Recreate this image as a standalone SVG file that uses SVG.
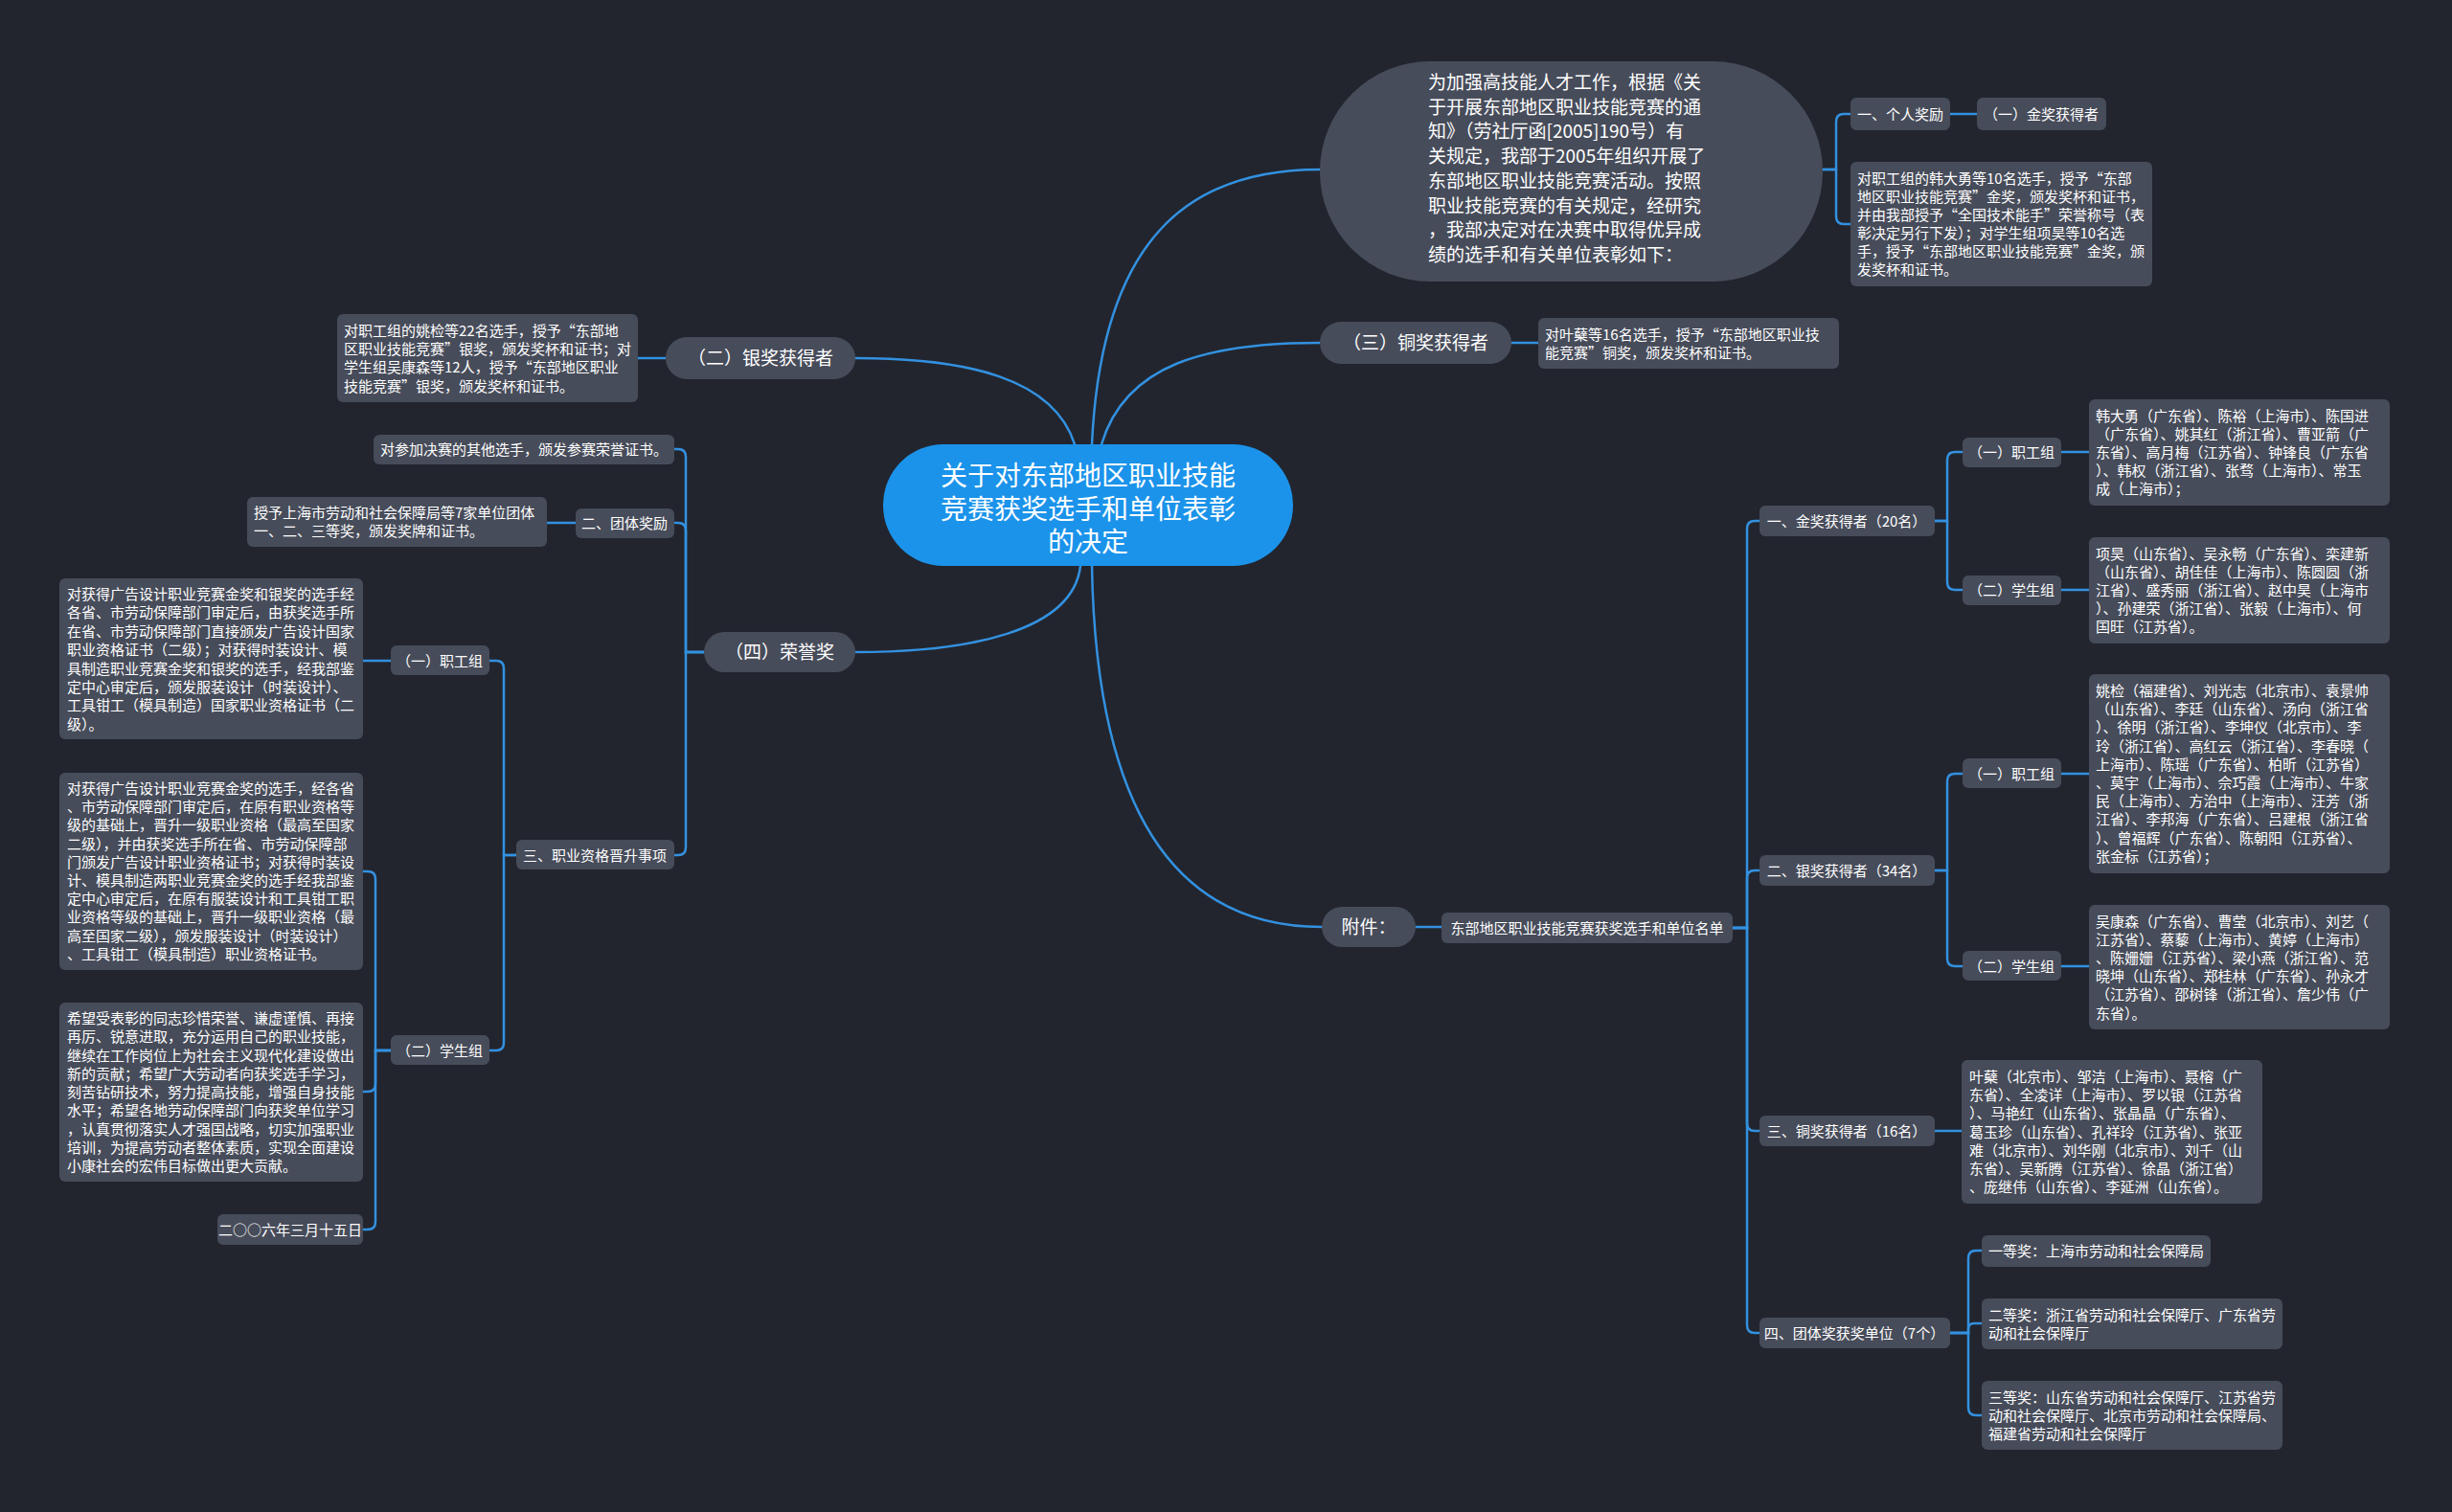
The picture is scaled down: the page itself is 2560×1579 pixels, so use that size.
<svg xmlns="http://www.w3.org/2000/svg" width="2560" height="1579" viewBox="0 0 2560 1579">
<style>
.bg{fill:#22252e}
.n{fill:#474c5a}
.root{fill:#1b93ea}
.t{fill:#ffffff;font-family:"Noto Sans CJK SC","Noto Sans",sans-serif;font-size:15px}
.m{text-anchor:middle}
.l1{font-size:19px}
.big{font-size:28px}
.ln{fill:none;stroke:#3391e0;stroke-width:2.5;stroke-linecap:round}
</style>
<rect class="bg" x="0" y="0" width="2560" height="1579"/>

<g id="connectors">
<path class="ln" d="M 1140 464 C 1150 250 1240 177 1378 177"/>
<path class="ln" d="M 1150 464 C 1175 380 1260 358 1378 358"/>
<path class="ln" d="M 1122 464 C 1100 395 1010 374 893 374"/>
<path class="ln" d="M 1128 591 C 1120 660 1010 681 893 681"/>
<path class="ln" d="M 1140 591 C 1145 880 1250 968 1380 968"/>

<path class="ln" d="M 1903 177 H 1917 V 127 Q 1917 119 1925 119 H 1932"/>
<path class="ln" d="M 1903 177 H 1917 V 226 Q 1917 234 1925 234 H 1932"/>
<path class="ln" d="M 2036 119 H 2064"/>
<path class="ln" d="M 1578 358 H 1606"/>
<path class="ln" d="M 1478 968 H 1505"/>

<path class="ln" d="M 1809 969 H 1824 V 552 Q 1824 544 1832 544 H 1837"/>
<path class="ln" d="M 1809 969 H 1824 V 917 Q 1824 909 1832 909 H 1837"/>
<path class="ln" d="M 1809 969 H 1824 V 1173 Q 1824 1181 1832 1181 H 1837"/>
<path class="ln" d="M 1809 969 H 1824 V 1384 Q 1824 1392 1832 1392 H 1837"/>

<path class="ln" d="M 2020 544 H 2033 V 480 Q 2033 472 2041 472 H 2049"/>
<path class="ln" d="M 2020 544 H 2033 V 608 Q 2033 616 2041 616 H 2049"/>
<path class="ln" d="M 2020 909 H 2033 V 816 Q 2033 808 2041 808 H 2049"/>
<path class="ln" d="M 2020 909 H 2033 V 1001 Q 2033 1009 2041 1009 H 2049"/>
<path class="ln" d="M 2152 472 H 2181"/>
<path class="ln" d="M 2152 616 H 2181"/>
<path class="ln" d="M 2152 808 H 2181"/>
<path class="ln" d="M 2152 1009 H 2181"/>
<path class="ln" d="M 2020 1181 H 2048"/>

<path class="ln" d="M 2036 1392 H 2055 V 1314 Q 2055 1306 2063 1306 H 2069"/>
<path class="ln" d="M 2036 1392 H 2055 V 1388 Q 2055 1382 2061 1382 H 2069"/>
<path class="ln" d="M 2036 1392 H 2055 V 1470 Q 2055 1478 2063 1478 H 2069"/>

<path class="ln" d="M 695 374 H 666"/>
<path class="ln" d="M 735 681 H 716 V 477 Q 716 469 708 469 H 704"/>
<path class="ln" d="M 735 681 H 716 V 554 Q 716 546 708 546 H 704"/>
<path class="ln" d="M 735 681 H 716 V 885 Q 716 893 708 893 H 704"/>
<path class="ln" d="M 601 546 H 571"/>
<path class="ln" d="M 539 893 H 526 V 698 Q 526 690 518 690 H 511"/>
<path class="ln" d="M 539 893 H 526 V 1089 Q 526 1097 518 1097 H 511"/>
<path class="ln" d="M 408 690 H 379"/>
<path class="ln" d="M 408 1097 H 392 V 918 Q 392 910 384 910 H 379"/>
<path class="ln" d="M 408 1097 H 392 V 1132 Q 392 1140 384 1140 H 379"/>
<path class="ln" d="M 408 1097 H 392 V 1276 Q 392 1284 384 1284 H 379"/>
</g>

<g id="root">
<rect class="root" x="922" y="464" width="428" height="127" rx="63"/>
<text class="t big m"><tspan x="1136" y="507">关于对东部地区职业技能</tspan><tspan x="1136" y="542">竞赛获奖选手和单位表彰</tspan><tspan x="1136" y="576">的决定</tspan></text>
</g>

<g id="intro">
<rect class="n" x="1378" y="64" width="525" height="230" rx="115"/>
<text class="t l1"><tspan x="1491" y="93">为加强高技能人才工作，根据《关</tspan><tspan x="1491" y="119">于开展东部地区职业技能竞赛的通</tspan><tspan x="1491" y="144">知》（劳社厅函[2005]190号）有</tspan><tspan x="1491" y="170">关规定，我部于2005年组织开展了</tspan><tspan x="1491" y="196">东部地区职业技能竞赛活动。按照</tspan><tspan x="1491" y="222">职业技能竞赛的有关规定，经研究</tspan><tspan x="1491" y="247">，我部决定对在决赛中取得优异成</tspan><tspan x="1491" y="273">绩的选手和有关单位表彰如下：</tspan></text>
</g>

<g id="personal">
<rect class="n" x="1932" y="102" width="104" height="34" rx="6"/>
<text class="t m" x="1984" y="124.5">一、个人奖励</text>
</g>
<g id="gold1">
<rect class="n" x="2064" y="102" width="135" height="34" rx="6"/>
<text class="t m" x="2131" y="124.5">（一）金奖获得者</text>
</g>
<g id="personal-desc">
<rect class="n" x="1932" y="169" width="315" height="130" rx="6"/>
<text class="t"><tspan x="1939" y="192">对职工组的韩大勇等10名选手，授予“东部</tspan><tspan x="1939" y="211">地区职业技能竞赛”金奖，颁发奖杯和证书，</tspan><tspan x="1939" y="230">并由我部授予“全国技术能手”荣誉称号（表</tspan><tspan x="1939" y="249">彰决定另行下发）；对学生组项昊等10名选</tspan><tspan x="1939" y="268">手，授予“东部地区职业技能竞赛”金奖，颁</tspan><tspan x="1939" y="287">发奖杯和证书。</tspan></text>
</g>

<g id="bronze">
<rect class="n" x="1378" y="336" width="200" height="44" rx="22"/>
<text class="t l1 m" x="1478" y="365">（三）铜奖获得者</text>
</g>
<g id="bronze-desc">
<rect class="n" x="1606" y="332" width="314" height="53" rx="6"/>
<text class="t"><tspan x="1613" y="354.5">对叶蘖等16名选手，授予“东部地区职业技</tspan><tspan x="1613" y="373.5">能竞赛”铜奖，颁发奖杯和证书。</tspan></text>
</g>

<g id="silver">
<rect class="n" x="695" y="352" width="198" height="44" rx="22"/>
<text class="t l1 m" x="794" y="381">（二）银奖获得者</text>
</g>
<g id="silver-desc">
<rect class="n" x="352" y="328" width="314" height="92" rx="6"/>
<text class="t"><tspan x="359" y="350.5">对职工组的姚检等22名选手，授予“东部地</tspan><tspan x="359" y="370">区职业技能竞赛”银奖，颁发奖杯和证书；对</tspan><tspan x="359" y="389">学生组吴康森等12人，授予“东部地区职业</tspan><tspan x="359" y="408.5">技能竞赛”银奖，颁发奖杯和证书。</tspan></text>
</g>

<g id="honor">
<rect class="n" x="735" y="660" width="158" height="42" rx="21"/>
<text class="t l1 m" x="814" y="688">（四）荣誉奖</text>
</g>
<g id="honor-cert">
<rect class="n" x="390" y="454" width="314" height="31" rx="6"/>
<text class="t m" x="547" y="474.5">对参加决赛的其他选手，颁发参赛荣誉证书。</text>
</g>
<g id="team-award">
<rect class="n" x="601" y="531" width="103" height="31" rx="6"/>
<text class="t m" x="652" y="551.5">二、团体奖励</text>
</g>
<g id="team-award-desc">
<rect class="n" x="258" y="519" width="313" height="52" rx="6"/>
<text class="t"><tspan x="265" y="541">授予上海市劳动和社会保障局等7家单位团体</tspan><tspan x="265" y="560">一、二、三等奖，颁发奖牌和证书。</tspan></text>
</g>
<g id="qualification">
<rect class="n" x="539" y="877" width="165" height="31" rx="6"/>
<text class="t m" x="621" y="898.5">三、职业资格晋升事项</text>
</g>
<g id="q-staff">
<rect class="n" x="408" y="674" width="103" height="31" rx="6"/>
<text class="t m" x="459" y="695.5">（一）职工组</text>
</g>
<g id="q-staff-desc">
<rect class="n" x="62" y="604" width="317" height="168" rx="6"/>
<text class="t"><tspan x="70" y="625.5">对获得广告设计职业竞赛金奖和银奖的选手经</tspan><tspan x="70" y="645">各省、市劳动保障部门审定后，由获奖选手所</tspan><tspan x="70" y="664.5">在省、市劳动保障部门直接颁发广告设计国家</tspan><tspan x="70" y="683.5">职业资格证书（二级）；对获得时装设计、模</tspan><tspan x="70" y="703.5">具制造职业竞赛金奖和银奖的选手，经我部鉴</tspan><tspan x="70" y="722.5">定中心审定后，颁发服装设计（时装设计）、</tspan><tspan x="70" y="742">工具钳工（模具制造）国家职业资格证书（二</tspan><tspan x="70" y="761.5">级）。</tspan></text>
</g>
<g id="q-student">
<rect class="n" x="408" y="1081" width="103" height="31" rx="6"/>
<text class="t m" x="459" y="1102.5">（二）学生组</text>
</g>
<g id="q-student-desc">
<rect class="n" x="62" y="807" width="317" height="206" rx="6"/>
<text class="t"><tspan x="70" y="829">对获得广告设计职业竞赛金奖的选手，经各省</tspan><tspan x="70" y="848.2">、市劳动保障部门审定后，在原有职业资格等</tspan><tspan x="70" y="867.4">级的基础上，晋升一级职业资格（最高至国家</tspan><tspan x="70" y="886.6">二级），并由获奖选手所在省、市劳动保障部</tspan><tspan x="70" y="905.8">门颁发广告设计职业资格证书；对获得时装设</tspan><tspan x="70" y="925">计、模具制造两职业竞赛金奖的选手经我部鉴</tspan><tspan x="70" y="944.2">定中心审定后，在原有服装设计和工具钳工职</tspan><tspan x="70" y="963.4">业资格等级的基础上，晋升一级职业资格（最</tspan><tspan x="70" y="982.6">高至国家二级），颁发服装设计（时装设计）</tspan><tspan x="70" y="1001.8">、工具钳工（模具制造）职业资格证书。</tspan></text>
</g>
<g id="hope">
<rect class="n" x="62" y="1047" width="317" height="187" rx="6"/>
<text class="t"><tspan x="70" y="1069">希望受表彰的同志珍惜荣誉、谦虚谨慎、再接</tspan><tspan x="70" y="1088.2">再厉、锐意进取，充分运用自己的职业技能，</tspan><tspan x="70" y="1107.5">继续在工作岗位上为社会主义现代化建设做出</tspan><tspan x="70" y="1126.7">新的贡献；希望广大劳动者向获奖选手学习，</tspan><tspan x="70" y="1146">刻苦钻研技术，努力提高技能，增强自身技能</tspan><tspan x="70" y="1165.2">水平；希望各地劳动保障部门向获奖单位学习</tspan><tspan x="70" y="1184.5">，认真贯彻落实人才强国战略，切实加强职业</tspan><tspan x="70" y="1203.7">培训，为提高劳动者整体素质，实现全面建设</tspan><tspan x="70" y="1223">小康社会的宏伟目标做出更大贡献。</tspan></text>
</g>
<g id="date">
<rect class="n" x="227" y="1268" width="152" height="32" rx="6"/>
<text class="t m" x="303" y="1289.5">二○○六年三月十五日</text>
</g>

<g id="attachment">
<rect class="n" x="1380" y="947" width="98" height="42" rx="21"/>
<text class="t l1 m" x="1429" y="975">附件：</text>
</g>
<g id="list">
<rect class="n" x="1505" y="953" width="304" height="32" rx="6"/>
<text class="t m" x="1657" y="974.5">东部地区职业技能竞赛获奖选手和单位名单</text>
</g>
<g id="list-gold">
<rect class="n" x="1837" y="528" width="183" height="32" rx="6"/>
<text class="t m" x="1928" y="549.5">一、金奖获得者（20名）</text>
</g>
<g id="list-silver">
<rect class="n" x="1837" y="893" width="183" height="32" rx="6"/>
<text class="t m" x="1928" y="914.5">二、银奖获得者（34名）</text>
</g>
<g id="list-bronze">
<rect class="n" x="1837" y="1165" width="183" height="32" rx="6"/>
<text class="t m" x="1928" y="1186.5">三、铜奖获得者（16名）</text>
</g>
<g id="list-team">
<rect class="n" x="1837" y="1376" width="199" height="32" rx="6"/>
<text class="t m" x="1936" y="1397.5">四、团体奖获奖单位（7个）</text>
</g>

<g id="gold-staff">
<rect class="n" x="2049" y="457" width="103" height="31" rx="6"/>
<text class="t m" x="2100" y="477.5">（一）职工组</text>
</g>
<g id="gold-student">
<rect class="n" x="2049" y="601" width="103" height="31" rx="6"/>
<text class="t m" x="2100" y="621.5">（二）学生组</text>
</g>
<g id="gold-staff-names">
<rect class="n" x="2181" y="417" width="314" height="111" rx="6"/>
<text class="t"><tspan x="2188" y="439.6">韩大勇（广东省）、陈裕（上海市）、陈国进</tspan><tspan x="2188" y="458.8">（广东省）、姚其红（浙江省）、曹亚箭（广</tspan><tspan x="2188" y="478">东省）、高月梅（江苏省）、钟锋良（广东省</tspan><tspan x="2188" y="497.2">）、韩权（浙江省）、张骛（上海市）、常玉</tspan><tspan x="2188" y="516.4">成（上海市）；</tspan></text>
</g>
<g id="gold-student-names">
<rect class="n" x="2181" y="561" width="314" height="111" rx="6"/>
<text class="t"><tspan x="2188" y="583.6">项昊（山东省）、吴永畅（广东省）、栾建新</tspan><tspan x="2188" y="602.8">（山东省）、胡佳佳（上海市）、陈圆圆（浙</tspan><tspan x="2188" y="622">江省）、盛秀丽（浙江省）、赵中昊（上海市</tspan><tspan x="2188" y="641.2">）、孙建荣（浙江省）、张毅（上海市）、何</tspan><tspan x="2188" y="660.4">国旺（江苏省）。</tspan></text>
</g>

<g id="silver-staff">
<rect class="n" x="2049" y="792" width="103" height="31" rx="6"/>
<text class="t m" x="2100" y="813.5">（一）职工组</text>
</g>
<g id="silver-student">
<rect class="n" x="2049" y="993" width="103" height="31" rx="6"/>
<text class="t m" x="2100" y="1014.5">（二）学生组</text>
</g>
<g id="silver-staff-names">
<rect class="n" x="2181" y="704" width="314" height="208" rx="6"/>
<text class="t"><tspan x="2188" y="727">姚检（福建省）、刘光志（北京市）、袁景帅</tspan><tspan x="2188" y="746.2">（山东省）、李廷（山东省）、汤向（浙江省</tspan><tspan x="2188" y="765.4">）、徐明（浙江省）、李坤仪（北京市）、李</tspan><tspan x="2188" y="784.6">玲（浙江省）、高红云（浙江省）、李春晓（</tspan><tspan x="2188" y="803.8">上海市）、陈瑶（广东省）、柏昕（江苏省）</tspan><tspan x="2188" y="823">、莫宇（上海市）、佘巧霞（上海市）、牛家</tspan><tspan x="2188" y="842.2">民（上海市）、方治中（上海市）、汪芳（浙</tspan><tspan x="2188" y="861.4">江省）、李邦海（广东省）、吕建根（浙江省</tspan><tspan x="2188" y="880.6">）、曾福辉（广东省）、陈朝阳（江苏省）、</tspan><tspan x="2188" y="899.8">张金标（江苏省）；</tspan></text>
</g>
<g id="silver-student-names">
<rect class="n" x="2181" y="945" width="314" height="130" rx="6"/>
<text class="t"><tspan x="2188" y="967.5">吴康森（广东省）、曹莹（北京市）、刘艺（</tspan><tspan x="2188" y="986.7">江苏省）、蔡藜（上海市）、黄婷（上海市）</tspan><tspan x="2188" y="1005.9">、陈姗姗（江苏省）、梁小燕（浙江省）、范</tspan><tspan x="2188" y="1025.1">晓坤（山东省）、郑桂林（广东省）、孙永才</tspan><tspan x="2188" y="1044.3">（江苏省）、邵树锋（浙江省）、詹少伟（广</tspan><tspan x="2188" y="1063.5">东省）。</tspan></text>
</g>

<g id="bronze-names">
<rect class="n" x="2048" y="1107" width="314" height="150" rx="6"/>
<text class="t"><tspan x="2056" y="1130">叶蘖（北京市）、邹洁（上海市）、聂榕（广</tspan><tspan x="2056" y="1149.2">东省）、全凌详（上海市）、罗以银（江苏省</tspan><tspan x="2056" y="1168.4">）、马艳红（山东省）、张晶晶（广东省）、</tspan><tspan x="2056" y="1187.6">葛玉珍（山东省）、孔祥玲（江苏省）、张亚</tspan><tspan x="2056" y="1206.8">难（北京市）、刘华刚（北京市）、刘千（山</tspan><tspan x="2056" y="1226">东省）、吴新腾（江苏省）、徐晶（浙江省）</tspan><tspan x="2056" y="1245.2">、庞继伟（山东省）、李延洲（山东省）。</tspan></text>
</g>

<g id="team-1">
<rect class="n" x="2069" y="1290" width="239" height="33" rx="6"/>
<text class="t" x="2076" y="1311.5">一等奖：上海市劳动和社会保障局</text>
</g>
<g id="team-2">
<rect class="n" x="2069" y="1356" width="314" height="53" rx="6"/>
<text class="t"><tspan x="2076" y="1378.5">二等奖：浙江省劳动和社会保障厅、广东省劳</tspan><tspan x="2076" y="1397.5">动和社会保障厅</tspan></text>
</g>
<g id="team-3">
<rect class="n" x="2069" y="1442" width="314" height="72" rx="6"/>
<text class="t"><tspan x="2076" y="1464.5">三等奖：山东省劳动和社会保障厅、江苏省劳</tspan><tspan x="2076" y="1483.5">动和社会保障厅、北京市劳动和社会保障局、</tspan><tspan x="2076" y="1502.5">福建省劳动和社会保障厅</tspan></text>
</g>
</svg>
